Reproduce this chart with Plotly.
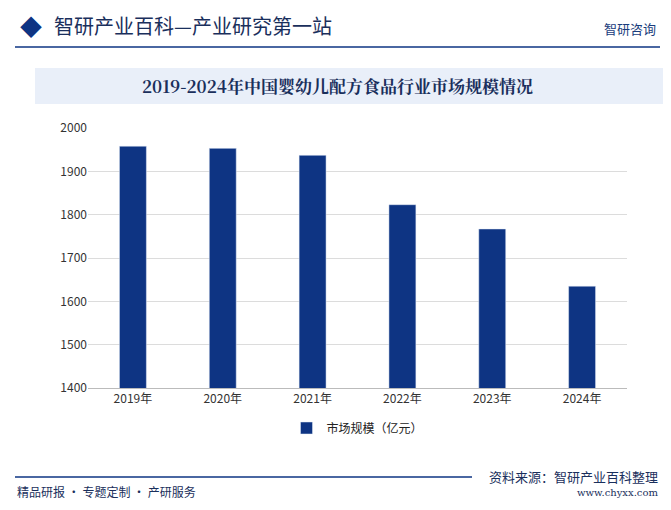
import plotly.graph_objects as go

years = ["2019年", "2020年", "2021年", "2022年", "2023年", "2024年"]
market_size = [1958, 1953, 1937, 1823, 1767, 1635]

navy = "#0e3483"
cjk = "Noto Sans CJK SC"


# screen pixel -> paper coords (plot area 88..627 x 128..388 on screen)
def px(x):
    return (x - 88) / 539


def py(y):
    return (388 - y) / 260


shapes = [
    dict(type="line", xref="paper", yref="paper", x0=px(15), x1=px(660), y0=py(47), y1=py(47),
         line=dict(color=navy, width=1.5)),
    dict(type="rect", xref="paper", yref="paper", x0=px(35), x1=px(665), y0=py(104), y1=py(68),
         fillcolor="#e9eff9", line_width=0, layer="below"),
    dict(type="line", xref="paper", yref="paper", x0=px(15), x1=px(472), y0=py(477), y1=py(477),
         line=dict(color=navy, width=1.5)),
]


def note(text, x, y, size, color="#1a2f5c", family=cjk, xanchor="left"):
    return dict(text=text, x=px(x), y=py(y), xref="paper", yref="paper", showarrow=False,
                xanchor=xanchor, yanchor="middle", font=dict(size=size, color=color, family=family))


annotations = [
    note("◆", 18, 25, 22, navy),
    note("智研产业百科—产业研究第一站", 52, 25, 20),
    note("智研咨询", 658, 28, 13, "#1a3d7c", xanchor="right"),
    note("<b>2019-2024年中国婴幼儿配方食品行业市场规模情况</b>", 337, 86, 17,
         family="Noto Serif CJK SC, " + cjk, xanchor="center"),
    note("资料来源：智研产业百科整理", 660, 476, 13, xanchor="right"),
    note("www.chyxx.com", 660, 492, 10, family="DejaVu Serif", xanchor="right"),
    note("精品研报 · 专题定制 · 产研服务", 15, 491, 12),
]

fig = go.Figure()
fig.add_trace(go.Bar(x=years, y=market_size, name="市场规模（亿元）",
                     marker_color=navy, width=0.3))

fig.update_layout(
    width=671, height=510, paper_bgcolor="white", plot_bgcolor="white",
    margin=dict(l=80, r=52, t=120, b=130),
    font=dict(family=cjk, size=12, color="#333"),
    shapes=shapes, annotations=annotations,
    showlegend=True,
    legend=dict(orientation="h", x=0.5, xanchor="center", y=py(428), yanchor="middle",
                font=dict(size=12, color="#222"), itemwidth=30),
    yaxis=dict(range=[1400, 2000], dtick=100, gridcolor="#dcdcdc", tickfont=dict(size=12, color="#333"),
               showline=False, ticks=""),
    xaxis=dict(showline=True, linecolor="#bbbbbb", tickfont=dict(size=12, color="#333")),
)

fig.write_html("out.html")
